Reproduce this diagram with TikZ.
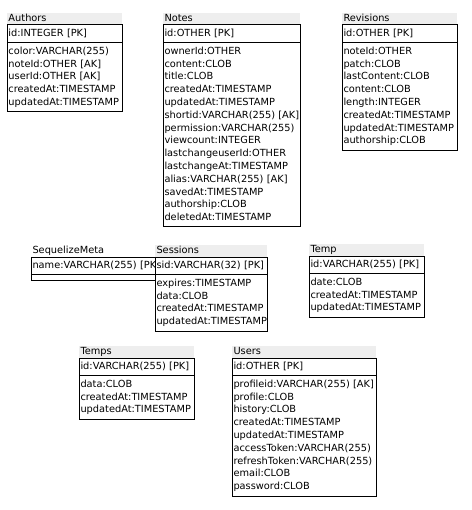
\documentclass[tikz,border=0pt]{standalone}
\usepackage{fontspec}
\setmainfont{DejaVu Sans}
\usetikzlibrary{positioning}
\definecolor{titlegray}{RGB}{238,238,238}

\begin{document}
\begin{tikzpicture}[
    x=1pt, y=-1pt,
    node distance=0pt,
    font=\fontsize{9.8}{12.8}\selectfont,
    header/.style={rectangle, anchor=south west, fill=#1, outer sep=0pt, inner xsep=1.5pt, inner ysep=0pt, minimum height=12pt, text height=7.5pt, text depth=2pt, align=left},
    header/.default=titlegray,
    keyrow/.style={rectangle, draw, line width=1pt, fill=white, outer sep=0pt, inner xsep=1.5pt, inner ysep=2.5pt, align=left, execute at begin node=\strut, execute at end node=\strut},
    fieldrows/.style={keyrow}
]
\useasboundingbox (0,0) rectangle (471,510);

% Authors table
\node[header, text width=112pt] (authors-title) at (7,25) {Authors};
\node[keyrow, below=of authors-title, text width=112pt] (authors-key) {id:INTEGER [PK]};
\node[fieldrows, below=of authors-key, text width=112pt] (authors-fields) {
    color:VARCHAR(255)\\
    noteId:OTHER [AK]\\
    userId:OTHER [AK]\\
    createdAt:TIMESTAMP\\
    updatedAt:TIMESTAMP};

% Notes table
\node[header, text width=134pt] (notes-title) at (163,25) {Notes};
\node[keyrow, below=of notes-title, text width=134pt] (notes-key) {id:OTHER [PK]};
\node[fieldrows, below=of notes-key, text width=134pt] (notes-fields) {
    ownerId:OTHER\\
    content:CLOB\\
    title:CLOB\\
    createdAt:TIMESTAMP\\
    updatedAt:TIMESTAMP\\
    shortid:VARCHAR(255)~[AK]\\
    permission:VARCHAR(255)\\
    viewcount:INTEGER\\
    lastchangeuserId:OTHER\\
    lastchangeAt:TIMESTAMP\\
    alias:VARCHAR(255)~[AK]\\
    savedAt:TIMESTAMP\\
    authorship:CLOB\\
    deletedAt:TIMESTAMP};

% Revisions table
\node[header, text width=112pt] (revisions-title) at (342,25) {Revisions};
\node[keyrow, below=of revisions-title, text width=112pt] (revisions-key) {id:OTHER [PK]};
\node[fieldrows, below=of revisions-key, text width=112pt] (revisions-fields) {
    noteId:OTHER\\
    patch:CLOB\\
    lastContent:CLOB\\
    content:CLOB\\
    length:INTEGER\\
    createdAt:TIMESTAMP\\
    updatedAt:TIMESTAMP\\
    authorship:CLOB};

% SequelizeMeta table (partly hidden under Sessions)
\node[header=white, text width=127pt] (meta-title) at (31,257) {SequelizeMeta};
\node[keyrow, below=of meta-title, text width=127pt] (meta-key) {name:VARCHAR(255)~[PK]};
\node[fieldrows, below=of meta-key, text width=127pt, execute at begin node={}, execute at end node={}, text height=0pt, text depth=0pt, minimum height=6pt] (meta-fields) {};

% Sessions table
\node[header, text width=109pt] (sessions-title) at (155,257) {Sessions};
\node[keyrow, below=of sessions-title, text width=109pt] (sessions-key) {sid:VARCHAR(32)~[PK]};
\node[fieldrows, below=of sessions-key, text width=109pt] (sessions-fields) {
    expires:TIMESTAMP\\
    data:CLOB\\
    createdAt:TIMESTAMP\\
    updatedAt:TIMESTAMP};

% Temp table
\node[header, text width=112pt] (temp-title) at (309,256) {Temp};
\node[keyrow, below=of temp-title, text width=112pt] (temp-key) {id:VARCHAR(255)~[PK]};
\node[fieldrows, below=of temp-key, text width=112pt] (temp-fields) {
    date:CLOB\\
    createdAt:TIMESTAMP\\
    updatedAt:TIMESTAMP};

% Temps table
\node[header, text width=112pt] (temps-title) at (79,358) {Temps};
\node[keyrow, below=of temps-title, text width=112pt] (temps-key) {id:VARCHAR(255)~[PK]};
\node[fieldrows, below=of temps-key, text width=112pt] (temps-fields) {
    data:CLOB\\
    createdAt:TIMESTAMP\\
    updatedAt:TIMESTAMP};

% Users table
\node[header, text width=141pt] (users-title) at (232,358) {Users};
\node[keyrow, below=of users-title, text width=141pt] (users-key) {id:OTHER [PK]};
\node[fieldrows, below=of users-key, text width=141pt] (users-fields) {
    profileid:VARCHAR(255)~[AK]\\
    profile:CLOB\\
    history:CLOB\\
    createdAt:TIMESTAMP\\
    updatedAt:TIMESTAMP\\
    accessToken:VARCHAR(255)\\
    refreshToken:VARCHAR(255)\\
    email:CLOB\\
    password:CLOB};

\end{tikzpicture}
\end{document}
